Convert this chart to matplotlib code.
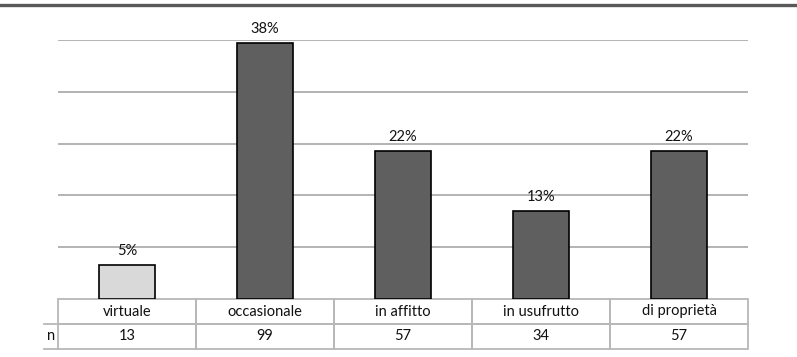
import matplotlib
matplotlib.use("Agg")
import matplotlib.pyplot as plt
from matplotlib.lines import Line2D
import numpy as np

plt.rcParams["font.family"] = ["Lato", "DejaVu Sans"]

# Data
categories = ["virtuale", "occasionale", "in affitto", "in usufrutto", "di proprietà"]
counts = [13, 99, 57, 34, 57]
row_label = "n"

total = sum(counts)
shares = np.array(counts) / total

bar_colors = ["#d9d9d9", "#5f5f5f", "#5f5f5f", "#5f5f5f", "#5f5f5f"]
grid_color = "#b3b3b3"
table_edge = "#b8b8b8"
text_color = "#111111"
fs = 10.5

W, H = 797, 357
fig = plt.figure(figsize=(W / 100, H / 100), dpi=100)

left, right, top, bottom = 58, 748, 40, 299
ax = fig.add_axes([left / W, 1 - bottom / H, (right - left) / W, (bottom - top) / H])

x = np.arange(len(categories))
ax.bar(x, shares, width=0.41, color=bar_colors, edgecolor="black",
       linewidth=1.2, zorder=3)

for xi, s in zip(x, shares):
    ax.annotate(f"{s * 100:.0f}%", (xi, s), xytext=(0, 5),
                textcoords="offset points", ha="center", va="bottom",
                fontsize=fs, color=text_color, zorder=4)

step = 20 / total
ymax = 100 / total
ax.set_xlim(-0.5, len(categories) - 0.5)
ax.set_ylim(0, ymax)
for g in np.arange(1, 6) * step:
    ax.axhline(g, color=grid_color, linewidth=1.4, zorder=1)

ax.set_xticks([])
ax.set_yticks([])
for sp in ax.spines.values():
    sp.set_visible(False)

# Table beneath the bars
plot_w = right - left
row_h = 25 / (bottom - top)
tbl = ax.table(
    cellText=[categories, [str(c) for c in counts]],
    cellLoc="center",
    bbox=[0, -2 * row_h, 1, 2 * row_h],
)
tbl.auto_set_font_size(False)
for (r, c), cell in tbl.get_celld().items():
    cell.set_edgecolor(table_edge)
    cell.set_linewidth(1.3)
    cell.set_facecolor("none")
    cell.get_text().set_fontsize(fs)
    cell.get_text().set_color(text_color)

# Row header for the counts row
lab_x0 = -14 / plot_w
for yy in (-row_h, -2 * row_h):
    ax.add_artist(Line2D([lab_x0, 0], [yy, yy], transform=ax.transAxes,
                         color=table_edge, linewidth=1.3, clip_on=False))
ax.text(lab_x0 / 2, -1.5 * row_h, row_label, transform=ax.transAxes,
        ha="center", va="center", fontsize=fs, color=text_color)

# Heavy rule across the top
fig.add_artist(Line2D([0, 1], [1 - 4.5 / H] * 2, transform=fig.transFigure,
                      color="#595959", linewidth=2.4))

fig.savefig("out.png", dpi=100)
